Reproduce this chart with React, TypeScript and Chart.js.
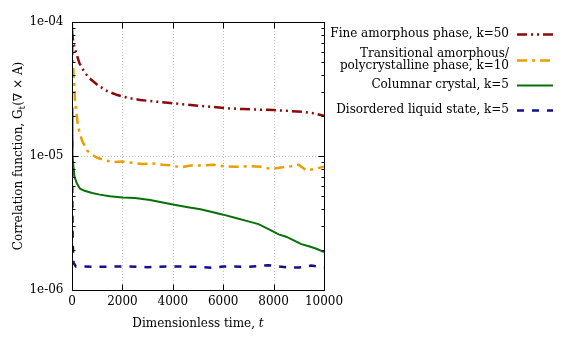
import React, { useEffect, useRef } from "react";
import { Chart, registerables } from "chart.js";

Chart.register(...registerables);

const redT = [0, 50, 150, 300, 500, 700, 1000, 1400, 1800, 2200, 2700, 3200, 3800, 4400, 5000, 5600, 6200, 6800, 7400, 8000, 8600, 9200, 9600, 10000];
const redV = [8.6e-5, 7.0e-5, 6.0e-5, 4.9e-5, 4.2e-5, 3.8e-5, 3.4e-5, 3.05e-5, 2.85e-5, 2.72e-5, 2.62e-5, 2.56e-5, 2.5e-5, 2.43e-5, 2.37e-5, 2.32e-5, 2.27e-5, 2.24e-5, 2.22e-5, 2.2e-5, 2.17e-5, 2.13e-5, 2.08e-5, 2.0e-5];

const orangeT = [0, 20, 60, 120, 240, 400, 600, 800, 1000, 1300, 1650, 2000, 2400, 2800, 3200, 3600, 4000, 4300, 4700, 5200, 5600, 6000, 6500, 7000, 7500, 7900, 8300, 8700, 9000, 9300, 9600, 10000];
const orangeV = [1.0e-4, 7e-5, 4e-5, 2.6e-5, 1.65e-5, 1.3e-5, 1.1e-5, 1.02e-5, 9.7e-6, 9.3e-6, 9.0e-6, 9.1e-6, 8.9e-6, 8.7e-6, 8.8e-6, 8.6e-6, 8.5e-6, 8.2e-6, 8.5e-6, 8.5e-6, 8.6e-6, 8.4e-6, 8.3e-6, 8.4e-6, 8.3e-6, 8.0e-6, 8.2e-6, 8.4e-6, 8.6e-6, 7.8e-6, 8.0e-6, 8.3e-6];

const greenT = [0, 10, 30, 60, 100, 200, 320, 500, 800, 1100, 1500, 2000, 2500, 3100, 3600, 4000, 4600, 5100, 5600, 6000, 6500, 7000, 7400, 7800, 8200, 8500, 8800, 9100, 9400, 9700, 10000];
const greenV = [2.3e-5, 1.4e-5, 1.0e-5, 8.2e-6, 7.0e-6, 6.2e-6, 5.7e-6, 5.5e-6, 5.3e-6, 5.15e-6, 5.0e-6, 4.9e-6, 4.85e-6, 4.7e-6, 4.5e-6, 4.35e-6, 4.15e-6, 4.0e-6, 3.8e-6, 3.65e-6, 3.45e-6, 3.25e-6, 3.1e-6, 2.85e-6, 2.6e-6, 2.5e-6, 2.35e-6, 2.2e-6, 2.12e-6, 2.03e-6, 1.92e-6];

const blueT = [0, 5, 15, 30, 60, 150, 1000, 2000, 3000, 4000, 5000, 5600, 6000, 7000, 7800, 8500, 9000, 9500, 10000];
const blueV = [1.3e-5, 8e-6, 4e-6, 2.2e-6, 1.6e-6, 1.5e-6, 1.49e-6, 1.5e-6, 1.48e-6, 1.5e-6, 1.49e-6, 1.46e-6, 1.5e-6, 1.49e-6, 1.53e-6, 1.48e-6, 1.47e-6, 1.52e-6, 1.48e-6];

const seriesLabels = [
  ["Fine amorphous phase, k=50"],
  ["Transitional amorphous/", "polycrystalline phase, k=10"],
  ["Columnar crystal, k=5"],
  ["Disordered liquid state, k=5"],
];
const xTicks = [0, 2000, 4000, 6000, 8000, 10000];
const yMajor = [1e-6, 1e-5, 1e-4];
const yLabels = ["1e-06", "1e-05", "1e-04"];

const colors = ["#8b0a0a", "#e8a000", "#087008", "#10108c"];
const dashes = [[10, 4, 2, 4, 2, 4], [10, 5, 3, 5], [], [7, 8]];
const widths = [2.5, 2.5, 2, 2.5];

const FONT = "DejaVu Serif";

const toXY = (t: number[], v: number[]) => t.map((x, i) => ({ x, y: v[i] }));

const framePlugin = {
  id: "frame",
  beforeDatasetsDraw(chart: any) {
    const { ctx, chartArea: a, scales } = chart;
    const xs = scales.x, ys = scales.y;
    ctx.save();
    ctx.strokeStyle = "#c0c0c0";
    ctx.lineWidth = 1;
    ctx.setLineDash([1, 2]);
    for (const t of xTicks.slice(1, -1)) {
      const px = Math.round(xs.getPixelForValue(t)) + 0.5;
      ctx.beginPath(); ctx.moveTo(px, a.top); ctx.lineTo(px, a.bottom); ctx.stroke();
    }
    for (const v of yMajor.slice(1, -1)) {
      const py = Math.round(ys.getPixelForValue(v)) + 0.5;
      ctx.beginPath(); ctx.moveTo(a.left, py); ctx.lineTo(a.right, py); ctx.stroke();
    }
    ctx.restore();
  },
  afterDatasetsDraw(chart: any) {
    const { ctx, chartArea: a, scales } = chart;
    const xs = scales.x, ys = scales.y;
    ctx.save();
    ctx.strokeStyle = "#000";
    ctx.lineWidth = 1;
    ctx.setLineDash([]);
    const L = Math.round(a.left) + 0.5, R = Math.round(a.right) + 0.5;
    const T = Math.round(a.top) + 0.5, B = Math.round(a.bottom) + 0.5;
    ctx.strokeRect(L, T, R - L, B - T);
    ctx.beginPath();
    for (const t of xTicks) {
      const px = Math.round(xs.getPixelForValue(t)) + 0.5;
      ctx.moveTo(px, B); ctx.lineTo(px, B - 6);
      ctx.moveTo(px, T); ctx.lineTo(px, T + 6);
    }
    for (let e = -6; e <= -4; e++) {
      for (let m = 1; m <= 9; m++) {
        const v = m * Math.pow(10, e);
        if (v > 1e-4 * 1.0001) break;
        const py = Math.round(ys.getPixelForValue(v)) + 0.5;
        const len = m === 1 ? 6 : 3;
        ctx.moveTo(L, py); ctx.lineTo(L + len, py);
        ctx.moveTo(R, py); ctx.lineTo(R - len, py);
      }
    }
    ctx.stroke();

    // tick labels
    ctx.fillStyle = "#000";
    ctx.font = `12px "${FONT}"`;
    ctx.textAlign = "right";
    ctx.textBaseline = "middle";
    yMajor.forEach((v, i) => {
      ctx.fillText(yLabels[i], L - 9, ys.getPixelForValue(v));
    });
    ctx.textAlign = "center";
    ctx.textBaseline = "top";
    for (const t of xTicks) {
      ctx.fillText(String(t), xs.getPixelForValue(t), B + 5);
    }

    // x title
    const xt1 = "Dimensionless time, ";
    ctx.font = `12px "${FONT}"`;
    const w1 = ctx.measureText(xt1).width;
    ctx.font = `italic 12px "${FONT}"`;
    const w2 = ctx.measureText("t").width;
    const cx = (a.left + a.right) / 2;
    let sx = cx - (w1 + w2) / 2;
    ctx.textAlign = "left";
    ctx.textBaseline = "alphabetic";
    ctx.font = `12px "${FONT}"`;
    ctx.fillText(xt1, sx, 327);
    ctx.font = `italic 12px "${FONT}"`;
    ctx.fillText("t", sx + w1, 327);

    // y title
    ctx.save();
    ctx.translate(22, (a.top + a.bottom) / 2);
    ctx.rotate(-Math.PI / 2);
    const p1 = "Correlation function, G";
    const p2 = "t";
    const p3 = "(\u2207 \u00d7 A)";
    ctx.font = `12px "${FONT}"`;
    const a1 = ctx.measureText(p1).width;
    const a3 = ctx.measureText(p3).width;
    ctx.font = `9px "${FONT}"`;
    const a2 = ctx.measureText(p2).width;
    let yx = -(a1 + a2 + a3) / 2;
    ctx.font = `12px "${FONT}"`;
    ctx.fillText(p1, yx, 0);
    ctx.font = `9px "${FONT}"`;
    ctx.fillText(p2, yx + a1, 3);
    ctx.font = `12px "${FONT}"`;
    ctx.fillText(p3, yx + a1 + a2, 0);
    ctx.restore();

    // legend
    const rows = [34, 60, 85, 110];
    ctx.textAlign = "right";
    ctx.textBaseline = "middle";
    ctx.font = `12px "${FONT}"`;
    seriesLabels.forEach((lines, i) => {
      const cy = rows[i];
      if (lines.length === 1) {
        ctx.fillText(lines[0], 509, cy);
      } else {
        ctx.fillText(lines[0], 509, cy - 6);
        ctx.fillText(lines[1], 509, cy + 6);
      }
      ctx.save();
      ctx.strokeStyle = colors[i];
      ctx.lineWidth = widths[i];
      ctx.setLineDash(dashes[i]);
      ctx.beginPath();
      ctx.moveTo(517, cy + 0.5);
      ctx.lineTo(553, cy + 0.5);
      ctx.stroke();
      ctx.restore();
    });
    ctx.restore();
  },
};

export default function App() {
  const ref = useRef<HTMLCanvasElement | null>(null);
  useEffect(() => {
    document.body.style.margin = "0";
    const canvas = ref.current!;
    const data = [toXY(redT, redV), toXY(orangeT, orangeV), toXY(greenT, greenV), toXY(blueT, blueV)];
    const chart = new Chart(canvas, {
      type: "line",
      data: {
        datasets: data.map((d, i) => ({
          label: seriesLabels[i].join(" "),
          data: d,
          borderColor: colors[i],
          borderWidth: widths[i],
          borderDash: dashes[i],
          pointRadius: 0,
          tension: 0,
          fill: false,
        })),
      },
      options: {
        animation: false,
        responsive: false,
        events: [],
        layout: { padding: { left: 0, right: 243, top: 22, bottom: 0 } },
        plugins: { legend: { display: false }, tooltip: { enabled: false }, title: { display: false } },
        scales: {
          x: {
            type: "linear",
            min: 0,
            max: 10000,
            grid: { display: false },
            border: { display: false },
            ticks: { display: false, stepSize: 2000 },
            afterFit: (s: any) => { s.height = 47; },
          },
          y: {
            type: "logarithmic",
            min: 1e-6,
            max: 1e-4,
            grid: { display: false },
            border: { display: false },
            ticks: { display: false },
            afterFit: (s: any) => { s.width = 72; },
          },
        },
      },
      plugins: [framePlugin],
    });
    return () => chart.destroy();
  }, []);
  return (
    <div style={{ width: 567, height: 337 }}>
      <canvas ref={ref} width={567} height={337} style={{ display: "block" }} />
    </div>
  );
}
